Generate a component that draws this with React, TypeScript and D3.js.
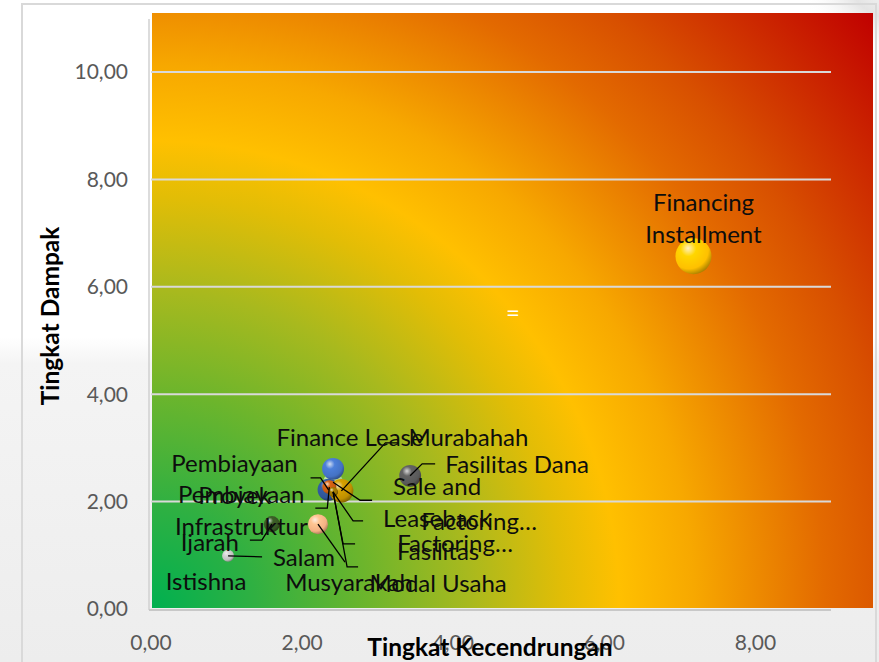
import * as d3 from 'd3';

// Bubble series (x = Tingkat Kecendrungan, y = Tingkat Dampak).
const names = [
  'Sale and Leaseback',
  'Finance Lease',
  'Pembiayaan Proyek',
  'Murabahah',
  'Pembiayaan Infrastruktur',
  'Factoring… (1)',
  'Factoring… (2)',
  'Fasilitas Modal Usaha',
  'Fasilitas Dana',
  'Musyarakah',
  'Ijarah',
  'Istishna',
  'Salam',
  'Financing Installment',
];
const xValues = [2.41, 2.41, 2.35, 2.52, 2.36, 2.41, 2.41, 2.41, 3.43, 2.21, 1.6, 1.02, 1.02, 7.18];
const yValues = [2.36, 2.61, 2.22, 2.2, 2.27, 2.18, 2.18, 2.18, 2.48, 1.58, 1.58, 0.99, 0.99, 6.57];
const sizes = [3.1, 3.7, 3.7, 4.4, 1.5, 0.6, 0.6, 0.7, 3.7, 3.1, 2.0, 0.4, 1.1, 10];

const xTicks = [0, 2, 4, 6, 8];
const yTicks = [0, 2, 4, 6, 8, 10];

// Styling per series (kept apart from the data).
const COLORS = [
  '#a9d18e', '#4472c4', '#2f5597', '#bf9000', '#c55a11', '#843c0c',
  '#7f6000', '#997300', '#595959', '#f4b183', '#375623', '#e7e6e6',
  '#bfbfbf', '#ffc000',
];

// Data-label layout: text lines, offsets from bubble centre, optional leader (elbow, end).
type LabelLayout = { lines: string[]; dx: number; dy: number; leader?: [number, number, number, number] };
const LABELS: LabelLayout[] = [
  { lines: ['Sale and', 'Leaseback'], dx: 104, dy: 4, leader: [27, 18, 39, 18] },
  { lines: ['Finance Lease'], dx: 17, dy: -31 },
  { lines: ['Pembiayaan', 'Proyek'], dx: -94, dy: -26, leader: [-8, -12, -18, -12] },
  { lines: ['Murabahah'], dx: 127, dy: -53, leader: [44, -48, 57, -48] },
  { lines: ['Pembiayaan', 'Infrastruktur'], dx: -88, dy: 7, leader: [-2, 21, -14, 21] },
  { lines: ['Factoring…'], dx: 146, dy: 30, leader: [20, 29, 30, 29] },
  { lines: ['Factoring…'], dx: 122, dy: 52, leader: [10, 52, 22, 52] },
  { lines: ['Fasilitas', 'Modal Usaha'], dx: 105, dy: 60, leader: [14, 75, 25, 75] },
  { lines: ['Fasilitas Dana'], dx: 107, dy: -11, leader: [12, -12, 25, -12] },
  { lines: ['Musyarakah'], dx: 31, dy: 58, leader: [27, 38, 27, 38] },
  { lines: ['Ijarah'], dx: -62, dy: 18, leader: [-10, 16, -22, 16] },
  { lines: ['Istishna'], dx: -22, dy: 26 },
  { lines: ['Salam'], dx: 76, dy: 2, leader: [34, 1, 34, 1] },
  { lines: ['Financing', 'Installment'], dx: 10, dy: -54 },
];

const W = 879;
const H = 662;
const FONT = "Lato, 'Open Sans', sans-serif";
const LINE_H = 32;

const PLOT_BG = [
  [0, '#00b050'], [0.11, '#2fb042'], [0.23, '#6cb52c'], [0.34, '#a8b91e'],
  [0.44, '#e2bd06'], [0.5, '#ffc000'], [0.58, '#f7a800'], [0.72, '#e36a00'],
  [0.8, '#d85000'], [1, '#c00000'],
] as const;

const fmt = d3.formatLocale({ decimal: ',', thousands: '.', grouping: [3], currency: ['', ''] }).format('.2f');

export default function App() {
  const x = d3.scaleLinear().domain([0, 9]).range([151, 831]);
  const y = d3.scaleLinear().domain([0, 10]).range([609, 72]);
  const r = d3.scaleSqrt().domain([0, d3.max(sizes)!]).range([0, 18]);

  const plot = { left: x(0) + 1, top: 13, right: 873, bottom: 608 };
  const bgR = Math.hypot(plot.right - plot.left, plot.bottom - plot.top);

  const points = names.map((name, i) => ({
    name,
    cx: x(xValues[i]),
    cy: y(yValues[i]),
    r: r(sizes[i]),
    color: COLORS[i],
    label: LABELS[i],
  }));

  return (
    <svg width={W} height={H} style={{ position: 'absolute', left: 0, top: 0, display: 'block' }}>
      <defs>
        <linearGradient id="page" x1="0" y1="0" x2="0" y2="1">
          <stop offset="0" stopColor="#ffffff" />
          <stop offset="0.51" stopColor="#ffffff" />
          <stop offset="0.55" stopColor="#f4f4f4" />
          <stop offset="1" stopColor="#ededed" />
        </linearGradient>
        <radialGradient id="corner" cx="1" cy="0" r="1">
          <stop offset="0" stopColor="#ffffff" />
          <stop offset="0.5" stopColor="#e4e4e4" />
          <stop offset="1" stopColor="#ffffff" stopOpacity="0" />
        </radialGradient>
        <radialGradient
          id="plotbg"
          gradientUnits="userSpaceOnUse"
          cx={plot.left}
          cy={plot.bottom}
          r={bgR}
        >
          {PLOT_BG.map(([o, c]) => (
            <stop key={o} offset={o} stopColor={c} />
          ))}
        </radialGradient>
        {points.map((p, i) => {
          const c = d3.color(p.color)!;
          return (
            <radialGradient key={i} id={`b${i}`} cx="0.38" cy="0.32" r="0.72" fx="0.35" fy="0.28">
              <stop offset="0" stopColor={d3.interpolateRgb(p.color, '#ffffff')(0.75)} />
              <stop offset="0.3" stopColor={c.brighter(0.3).formatHex()} />
              <stop offset="0.75" stopColor={p.color} />
              <stop offset="1" stopColor={c.darker(1.2).formatHex()} />
            </radialGradient>
          );
        })}
      </defs>

      {/* page / chart area */}
      <rect x={0} y={0} width={W} height={H} fill="url(#page)" />
      <rect x={800} y={-20} width={100} height={80} fill="url(#corner)" />
      <rect x={22} y={4} width={854} height={H + 10} fill="none" stroke="#d9d9d9" strokeWidth={2} />

      {/* plot background */}
      <rect
        x={plot.left}
        y={plot.top}
        width={plot.right - plot.left}
        height={plot.bottom - plot.top}
        fill="url(#plotbg)"
      />

      {/* gridlines */}
      {yTicks.filter((t) => t > 0).map((t) => (
        <line key={t} x1={x(0)} x2={x(9)} y1={y(t)} y2={y(t)} stroke="#d9d9d9" strokeWidth={2} />
      ))}
      {/* axes */}
      <line x1={x(0) - 2} x2={x(0) - 2} y1={19} y2={y(0) + 1} stroke="#d0d0d0" strokeWidth={1.5} />
      <line x1={x(0) - 2} x2={x(9)} y1={y(0) + 1} y2={y(0) + 1} stroke="#c8c8c8" strokeWidth={2} />

      <text x={513} y={321} fill="#ffffff" fontFamily={FONT} fontSize={24} textAnchor="middle">=</text>

      {/* y tick labels */}
      {yTicks.map((t) => (
        <text
          key={t}
          x={128}
          y={y(t)}
          dy="0.35em"
          textAnchor="end"
          fill="#595959"
          fontFamily={FONT}
          fontSize={21}
        >
          {fmt(t)}
        </text>
      ))}
      {/* x tick labels */}
      {xTicks.map((t) => (
        <text
          key={t}
          x={x(t)}
          y={650}
          textAnchor="middle"
          fill="#595959"
          fontFamily={FONT}
          fontSize={21}
        >
          {fmt(t)}
        </text>
      ))}

      {/* axis titles */}
      <text
        transform={`translate(59,316) rotate(-90)`}
        textAnchor="middle"
        fontFamily={FONT}
        fontWeight="bold"
        fontSize={24.5}
        fill="#000"
      >
        Tingkat Dampak
      </text>
      <text x={490} y={656} textAnchor="middle" fontFamily={FONT} fontWeight="bold" fontSize={24.5} fill="#000">
        Tingkat Kecendrungan
      </text>

      {/* bubbles */}
      {points.map((p, i) => (
        <circle key={i} cx={p.cx} cy={p.cy} r={p.r} fill={`url(#b${i})`} />
      ))}

      {/* leader lines */}
      {points.map((p, i) =>
        p.label.leader ? (
          <polyline
            key={i}
            points={`${p.cx},${p.cy} ${p.cx + p.label.leader[0]},${p.cy + p.label.leader[1]} ${p.cx + p.label.leader[2]},${p.cy + p.label.leader[3]}`}
            fill="none"
            stroke="#000"
            strokeWidth={1.3}
          />
        ) : null,
      )}

      {/* data labels */}
      {points.map((p, i) => (
        <text
          key={i}
          x={p.cx + p.label.dx}
          textAnchor="middle"
          fontFamily={FONT}
          fontSize={24}
          fill="#0d0d0d"
        >
          {p.label.lines.map((line, j) => (
            <tspan key={j} x={p.cx + p.label.dx} y={p.cy + p.label.dy + j * LINE_H} dy="0.35em">
              {line}
            </tspan>
          ))}
        </text>
      ))}
    </svg>
  );
}
